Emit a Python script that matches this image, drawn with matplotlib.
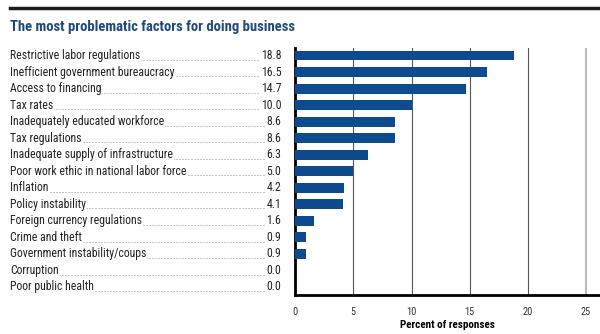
import matplotlib
matplotlib.use('Agg')
import matplotlib.pyplot as plt
import matplotlib.transforms as mtransforms
from matplotlib.lines import Line2D

factors = ['Restrictive labor regulations', 'Inefficient government bureaucracy',
           'Access to financing', 'Tax rates', 'Inadequately educated workforce',
           'Tax regulations', 'Inadequate supply of infrastructure',
           'Poor work ethic in national labor force', 'Inflation', 'Policy instability',
           'Foreign currency regulations', 'Crime and theft',
           'Government instability/coups', 'Corruption', 'Poor public health']
values = [18.8, 16.5, 14.7, 10.0, 8.6, 8.6, 6.3, 5.0, 4.2, 4.1, 1.6, 0.9, 0.9, 0.0, 0.0]
xticks = [0, 5, 10, 15, 20, 25]

plt.rcParams['font.family'] = ['Roboto Condensed', 'Liberation Sans', 'DejaVu Sans']

bar_color = '#0d4b8e'
title_color = '#1f4a7a'

fig = plt.figure(figsize=(6, 3.34), dpi=100)
ax = fig.add_axes([0.492, 0.117, 0.508, 0.739])

ypos = list(range(len(factors)))
ax.barh(ypos, values, height=0.6, color=bar_color, zorder=3)
ax.set_xlim(0, 26.2)
ax.set_ylim(len(factors) - 1 + 0.48, -0.45)

for t in xticks[1:-1]:
    ax.axvline(t, color='#555555', lw=0.8, zorder=1)
ax.axvline(25, color='#bbbbbb', lw=1.5, zorder=1)

ax.set_xticks(xticks)
ax.set_yticks([])
ax.tick_params(axis='x', length=0, pad=9, labelsize=7.5, colors='#333333')
ax.set_xlabel('Percent of responses', fontsize=8, fontweight='bold', labelpad=2)
for s in ['top', 'right']:
    ax.spines[s].set_visible(False)
ax.spines['left'].set_linewidth(2)
ax.spines['bottom'].set_linewidth(2)

# labels with dotted leaders
trans = mtransforms.blended_transform_factory(fig.transFigure, ax.transData)
for i, (name, v) in enumerate(zip(factors, values)):
    fig.add_artist(Line2D([0.03, 0.46], [i + 0.25, i + 0.25], transform=trans,
                          color='#777777', lw=0.6, linestyle=(0, (0.6, 1.2))))
    fig.text(0.017, i, name, transform=trans, fontsize=8.5, va='center', ha='left',
             color='#222222',
             bbox=dict(facecolor='white', edgecolor='none', pad=0.5))
    fig.text(0.469, i, f'{v:.1f}', transform=trans, fontsize=8.5, va='center', ha='right',
             color='#222222',
             bbox=dict(facecolor='white', edgecolor='none', pad=0.5))

# top rule and title
fig.add_artist(Line2D([0.017, 1.0], [0.976, 0.976], color='#1a1a1a', lw=2.5))
fig.text(0.017, 0.918, 'The most problematic factors for doing business',
         fontsize=10.5, fontweight='bold', color=title_color, va='center', ha='left')

fig.savefig('out.png', dpi=100)
